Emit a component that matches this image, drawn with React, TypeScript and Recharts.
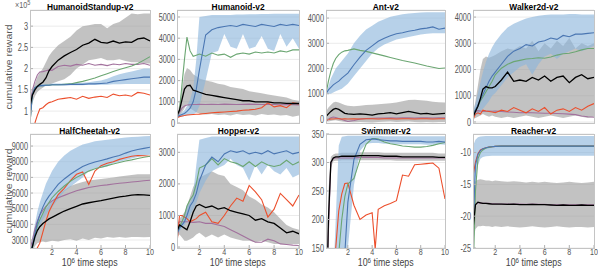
import React from 'react';
import { ComposedChart, Line, Area, XAxis, YAxis, CartesianGrid } from 'recharts';

// ---------- shared x grid (10^6 time steps) ----------
const X = [0.2, 0.4, 0.6, 0.8, 1, 1.25, 1.5, 1.75, 2, 2.5, 3, 3.5, 4, 4.5, 5, 5.5, 6, 6.5, 7, 7.5, 8, 8.5, 9, 9.5, 10];
const X_SWIM = [0.2, 0.4, 0.6, 0.8, 1, 1.25, 1.5, 1.75, 2, 2.5, 3, 3.5, 4, 4.25, 4.5, 5, 5.5, 6, 6.5, 7, 7.5, 8, 8.5, 9, 9.5, 10];
const X_TICKS = [2, 4, 6, 8, 10];

// ---------- HumanoidStandup-v2 (x10^5) ----------
const standupBlue = [0.72, 1.4, 1.55, 1.58, 1.6, 1.6, 1.61, 1.61, 1.62, 1.62, 1.62, 1.63, 1.63, 1.63, 1.64, 1.64, 1.65, 1.66, 1.7, 1.72, 1.74, 1.76, 1.78, 1.8, 1.8];
const standupBlueLo = [0.7, 1.36, 1.52, 1.55, 1.57, 1.58, 1.59, 1.59, 1.6, 1.6, 1.6, 1.61, 1.61, 1.61, 1.62, 1.62, 1.62, 1.62, 1.63, 1.63, 1.64, 1.64, 1.64, 1.64, 1.64];
const standupBlueHi = [0.75, 1.44, 1.58, 1.61, 1.63, 1.63, 1.64, 1.64, 1.65, 1.65, 1.65, 1.66, 1.66, 1.67, 1.68, 1.7, 1.72, 1.76, 1.82, 1.87, 1.9, 1.93, 1.97, 2.0, 2.0];
const standupGreen = [0.72, 1.4, 1.55, 1.58, 1.6, 1.6, 1.61, 1.61, 1.62, 1.62, 1.63, 1.64, 1.67, 1.7, 1.74, 1.78, 1.83, 1.88, 1.93, 1.98, 2.02, 2.06, 2.12, 2.2, 2.28];
const standupRed = [0.6, 0.65, 0.72, 0.9, 1.05, 1.08, 1.15, 1.2, 1.22, 1.28, 1.3, 1.32, 1.28, 1.35, 1.3, 1.33, 1.35, 1.32, 1.4, 1.36, 1.38, 1.35, 1.44, 1.42, 1.38];
const standupBlack = [1.12, 1.38, 1.5, 1.58, 1.63, 1.68, 1.78, 1.95, 2.05, 2.2, 2.3, 2.38, 2.45, 2.55, 2.6, 2.69, 2.62, 2.6, 2.65, 2.6, 2.63, 2.62, 2.7, 2.72, 2.65];
const standupBlackLo = [1.0, 1.2, 1.35, 1.45, 1.5, 1.55, 1.6, 1.62, 1.65, 1.7, 1.75, 1.85, 2.0, 2.1, 2.2, 2.22, 2.25, 2.2, 2.2, 2.22, 2.18, 2.15, 2.15, 2.12, 2.12];
const standupBlackHi = [1.2, 1.5, 1.65, 1.8, 1.9, 2.0, 2.15, 2.3, 2.4, 2.55, 2.65, 2.75, 2.9, 3.0, 3.02, 3.05, 3.05, 2.95, 3.05, 3.1, 3.2, 3.3, 3.28, 3.3, 3.3];
const standupPurple = [1.15, 1.5, 1.7, 1.85, 1.92, 1.93, 1.95, 1.97, 1.96, 2.05, 2.08, 2.06, 2.1, 2.08, 2.12, 2.08, 2.1, 2.07, 2.11, 2.09, 2.12, 2.1, 2.1, 2.12, 2.08];
const standupTicks = [1, 1.5, 2, 2.5, 3];

// ---------- Humanoid-v2 ----------
const humanoidBlue = [300, 350, 400, 450, 550, 700, 1000, 1600, 2500, 4150, 4400, 4500, 4550, 4600, 4550, 4650, 4600, 4550, 4650, 4600, 4550, 4650, 4600, 4650, 4600];
const humanoidBlueLo = [250, 280, 300, 330, 350, 380, 400, 500, 800, 2000, 3300, 3400, 4200, 3600, 3500, 4200, 3500, 3600, 4100, 3500, 3400, 4200, 3600, 4000, 3500];
const humanoidBlueHi = [350, 420, 500, 600, 800, 1100, 1600, 3000, 5000, 5050, 5100, 5100, 5100, 5100, 5120, 5120, 5130, 5130, 5140, 5140, 5150, 5150, 5150, 5150, 5150];
const humanoidGreen = [300, 600, 1800, 3000, 4050, 3400, 3150, 3200, 3250, 3150, 3300, 3200, 3250, 3100, 3250, 3300, 3250, 3350, 3300, 3350, 3300, 3400, 3350, 3450, 3450];
const humanoidRed = [250, 300, 330, 350, 380, 390, 400, 410, 420, 450, 480, 500, 520, 540, 560, 600, 620, 650, 720, 950, 760, 820, 720, 950, 900];
const humanoidBlack = [350, 600, 1100, 1600, 1750, 1780, 1550, 1500, 1450, 1350, 1300, 1250, 1200, 1150, 1100, 1050, 1050, 1000, 1000, 1000, 950, 950, 930, 920, 920];
const humanoidBlackLo = [250, 350, 500, 700, 900, 700, 600, 500, 450, 400, 420, 380, 400, 350, 420, 380, 400, 350, 420, 380, 400, 350, 380, 300, 350];
const humanoidBlackHi = [400, 900, 1600, 2300, 2600, 2500, 2300, 2200, 2100, 2000, 1950, 1850, 1800, 1700, 1650, 1600, 1500, 1450, 1400, 1350, 1300, 1250, 1200, 1100, 1050];
const humanoidPurple = [300, 500, 700, 800, 850, 860, 870, 870, 880, 870, 880, 870, 890, 880, 870, 880, 890, 880, 870, 880, 870, 860, 870, 860, 850];
const humanoidTicks = [0, 1000, 2000, 3000, 4000, 5000];

// ---------- Ant-v2 ----------
const antBlue = [1000, 1150, 1250, 1350, 1420, 1500, 1620, 1720, 1820, 2150, 2450, 2720, 2900, 3080, 3200, 3300, 3380, 3420, 3480, 3520, 3570, 3600, 3650, 3560, 3600];
const antBlueLo = [1000, 1000, 1000, 1050, 1100, 1150, 1200, 1300, 1400, 1700, 2000, 2300, 2600, 2800, 2950, 3050, 3150, 3200, 3250, 3300, 3350, 3380, 3400, 3400, 3400];
const antBlueHi = [1000, 1300, 1600, 1800, 2000, 2150, 2300, 2450, 2600, 3000, 3300, 3550, 3700, 3850, 3950, 4050, 4100, 4150, 4180, 4200, 4220, 4230, 4230, 4230, 4230];
const antGreen = [1000, 1500, 1900, 2200, 2400, 2550, 2650, 2700, 2720, 2780, 2720, 2680, 2620, 2560, 2500, 2440, 2380, 2320, 2270, 2220, 2160, 2100, 2050, 2000, 2020];
const antRed = [-50, -20, 0, 0, 10, 10, 0, 10, 0, 10, 0, 10, 10, 0, 10, 10, 0, 10, 10, 0, 10, 10, 0, 10, 10];
const antBlack = [100, 200, 300, 380, 420, 380, 300, 220, 200, 180, 200, 180, 150, 200, 220, 250, 200, 250, 300, 250, 200, 220, 180, 200, 220];
const antBlackLo = [-100, -100, -80, -60, -50, -80, -100, -120, -120, -130, -120, -130, -140, -120, -110, -100, -120, -110, -100, -120, -130, -120, -130, -120, -120];
const antBlackHi = [300, 450, 550, 650, 680, 650, 600, 550, 520, 500, 520, 550, 560, 580, 600, 620, 650, 700, 750, 760, 740, 720, 680, 660, 650];
const antPurple = [-100, 0, 50, 80, 60, 20, -20, -60, -100, -60, 0, 20, 30, 40, 40, 50, 40, 50, 50, 40, 50, 50, 40, 50, 50];
const antTicks = [0, 1000, 2000, 3000, 4000];

// ---------- Walker2d-v2 ----------
const walkerBlue = [300, 450, 650, 850, 1050, 1300, 1550, 1750, 1900, 2200, 2500, 2700, 2800, 2950, 2900, 3050, 3100, 3200, 3150, 3300, 3250, 3350, 3350, 3380, 3400];
const walkerBlueLo = [200, 250, 300, 400, 500, 650, 800, 1000, 1100, 1400, 1700, 1900, 2100, 2200, 1800, 2200, 2500, 2600, 2400, 2600, 2700, 2800, 2700, 2800, 2900];
const walkerBlueHi = [400, 700, 1100, 1500, 1900, 2300, 2600, 2850, 3050, 3350, 3600, 3750, 3850, 3950, 4000, 4050, 4080, 4100, 4100, 4100, 4120, 4120, 4100, 4100, 4100];
const walkerGreen = [300, 450, 600, 800, 950, 1150, 1350, 1550, 1800, 2050, 2200, 2300, 2350, 2400, 2420, 2450, 2430, 2480, 2550, 2600, 2620, 2680, 2750, 2800, 2800];
const walkerRed = [100, 300, 350, 300, 450, 420, 400, 380, 350, 450, 400, 550, 450, 350, 500, 400, 550, 300, 450, 500, 400, 550, 450, 600, 700];
const walkerBlack = [200, 400, 600, 900, 1250, 1350, 1300, 1300, 1350, 1600, 1900, 1550, 1600, 1550, 1700, 1600, 1750, 1550, 1700, 1750, 1500, 1700, 1800, 1650, 1700];
const walkerBlackLo = [100, 150, 200, 250, 300, 250, 200, 250, 200, 150, 200, 150, 200, 250, 200, 150, 200, 250, 200, 150, 200, 250, 200, 150, 200];
const walkerBlackHi = [300, 800, 1400, 2000, 2400, 2500, 2450, 2500, 2550, 2700, 2800, 2750, 2900, 2800, 3100, 2700, 3000, 2800, 3100, 2900, 3200, 2800, 3000, 2900, 3000];
const walkerPurple = [250, 400, 430, 420, 400, 410, 420, 410, 420, 400, 380, 370, 350, 360, 350, 340, 330, 330, 320, 310, 300, 280, 230, 200, 180];
const walkerTicks = [0, 1000, 2000, 3000, 4000];

// ---------- HalfCheetah-v2 ----------
const cheetahBlue = [2000, 2600, 3400, 4100, 4600, 5100, 5500, 5800, 6050, 6550, 6900, 7200, 7450, 7700, 7850, 7980, 8080, 8180, 8300, 8400, 8550, 8680, 8780, 8850, 8920];
const cheetahBlueLo = [1800, 2300, 2900, 3500, 3900, 4300, 4600, 4900, 5100, 5600, 6100, 6400, 6700, 7000, 7400, 7600, 7600, 7700, 7900, 8000, 8100, 8200, 8300, 8400, 8450];
const cheetahBlueHi = [2500, 3200, 4000, 4800, 5400, 6000, 6600, 7000, 7400, 8000, 8400, 8700, 8900, 9100, 9200, 9300, 9350, 9400, 9450, 9500, 9550, 9580, 9600, 9620, 9650];
const cheetahGreen = [2000, 2500, 3300, 3900, 4300, 4700, 5100, 5400, 5700, 6100, 6450, 6750, 7000, 7200, 7400, 7550, 7650, 7750, 7850, 7950, 8050, 8120, 8200, 8280, 8350];
const cheetahRed = [1500, 1800, 2200, 2500, 2800, 3500, 4200, 4800, 5200, 5900, 6300, 6800, 7200, 7350, 6550, 7400, 7750, 7900, 8000, 8150, 8250, 8350, 8400, 8380, 8350];
const cheetahBlack = [2000, 2600, 3200, 3600, 3850, 4050, 4200, 4350, 4450, 4650, 4850, 5000, 5150, 5300, 5380, 5450, 5520, 5600, 5680, 5750, 5800, 5870, 5900, 5880, 5850];
const cheetahBlackLo = [2000, 2300, 2600, 2800, 2850, 2900, 2850, 2900, 2950, 2900, 3000, 3050, 2950, 3100, 3000, 3150, 3100, 3200, 3150, 3200, 3150, 3200, 3200, 3180, 3200];
const cheetahBlackHi = [2200, 2900, 3600, 4000, 4300, 4650, 5000, 5250, 5500, 5900, 6200, 6450, 6600, 6700, 6800, 6850, 6900, 6950, 7000, 7050, 7100, 7150, 7200, 7200, 7200];
const cheetahPurple = [2400, 3000, 3700, 4200, 4600, 4900, 5150, 5350, 5500, 5700, 5850, 6000, 6150, 6250, 6350, 6420, 6480, 6520, 6580, 6620, 6660, 6700, 6740, 6780, 6820];
const cheetahTicks = [3000, 4000, 5000, 6000, 7000, 8000, 9000];

// ---------- Hopper-v2 ----------
const hopperBlue = [400, 600, 700, 800, 1000, 1300, 1450, 1700, 2100, 2600, 2850, 2700, 2950, 3050, 3000, 3050, 2950, 3000, 2950, 3050, 2950, 3000, 3050, 2950, 3000];
const hopperBlueLo = [300, 500, 600, 700, 800, 1000, 1200, 1400, 1700, 2100, 2400, 2500, 2600, 2800, 2600, 2500, 2100, 2600, 2300, 2600, 2400, 2300, 2500, 2200, 2300];
const hopperBlueHi = [500, 700, 800, 1000, 1300, 1400, 1700, 2600, 3400, 3450, 3500, 3500, 3500, 3500, 3500, 3500, 3500, 3500, 3500, 3500, 3500, 3500, 3500, 3500, 3500];
const hopperGreen = [500, 650, 800, 1000, 1300, 1500, 1650, 2000, 2500, 2600, 2800, 2600, 2800, 2700, 2650, 2550, 2700, 2550, 2700, 2600, 2550, 2600, 2750, 2600, 2700];
const hopperRed = [100, 1000, 1000, 950, 900, 800, 850, 900, 1000, 1100, 800, 750, 1000, 1300, 1550, 1450, 1950, 1750, 1500, 950, 1200, 1700, 1500, 1300, 1650];
const hopperBlack = [500, 700, 650, 600, 550, 800, 1100, 1300, 1350, 1250, 1300, 1200, 1250, 1150, 1100, 1050, 1000, 850, 900, 800, 750, 600, 450, 500, 420];
const hopperBlackLo = [300, 400, 300, 200, 200, 250, 300, 400, 450, 300, 400, 300, 400, 300, 250, 200, 200, 150, 200, 150, 100, 100, 100, 100, 100];
const hopperBlackHi = [700, 900, 1000, 1100, 1300, 1600, 1900, 2100, 2200, 2300, 2400, 2300, 2250, 2000, 1900, 1800, 1600, 1500, 1350, 1250, 1100, 900, 700, 600, 550];
const hopperPurple = [700, 800, 800, 800, 800, 790, 780, 790, 800, 750, 750, 700, 650, 550, 450, 350, 250, 150, 150, 250, 200, 100, 80, 60, 50];
const hopperTicks = [0, 1000, 2000, 3000];

// ---------- Swimmer-v2 ----------
const swimmerBlue = [0, 0, 0, 0, 50, 80, 100, 140, 230, 305, 332, 340, 341, 341, 340, 339, 338, 338, 337, 337, 337, 337, 336, 336, 337, 336];
const swimmerBlueLo = [0, 0, 0, 0, 0, 20, 50, 100, 150, 260, 320, 333, 334, 334, 334, 333, 333, 332, 332, 332, 332, 332, 331, 331, 332, 331];
const swimmerBlueHi = [0, 0, 0, 100, 200, 330, 345, 346, 347, 347, 347, 347, 347, 347, 347, 346, 346, 346, 346, 346, 346, 346, 346, 346, 346, 346];
const swimmerGreen = [0, 0, 0, 0, 100, 140, 200, 240, 262, 272, 305, 332, 342, 342, 341, 336, 333, 331, 329, 328, 327, 327, 328, 330, 333, 335];
const swimmerRed = [0, 0, 0, 80, 150, 215, 245, 263, 264, 225, 200, 208, 212, 148, 218, 224, 228, 233, 278, 276, 296, 297, 298, 299, 290, 236];
const swimmerBlack = [0, 200, 300, 308, 310, 310, 311, 311, 311, 311, 312, 312, 312, 312, 312, 311, 311, 311, 310, 310, 310, 310, 310, 310, 309, 309];
const swimmerBlackLo = [0, 150, 290, 302, 303, 303, 304, 304, 304, 304, 304, 304, 304, 304, 304, 304, 304, 303, 303, 303, 303, 303, 303, 303, 303, 303];
const swimmerBlackHi = [0, 250, 310, 314, 316, 316, 317, 317, 317, 317, 318, 318, 318, 318, 318, 317, 317, 317, 317, 317, 317, 317, 317, 317, 316, 316];
const swimmerPurple = [0, 180, 300, 307, 308, 308, 308, 308, 308, 308, 309, 309, 309, 309, 309, 308, 308, 308, 308, 308, 308, 308, 308, 308, 308, 308];
const swimmerTicks = [150, 200, 250, 300, 350];

// ---------- Reacher-v2 ----------
const reacherBlue = [-22, -12, -10.3, -9.7, -9.4, -9.25, -9.15, -9.1, -9.05, -9.0, -9.0, -9.0, -9.0, -9.0, -9.0, -9.0, -9.0, -9.0, -9.0, -9.0, -9.0, -9.0, -9.0, -9.0, -9.0];
const reacherBlueLo = [-30, -14, -12, -11, -10.7, -10.6, -10.55, -10.5, -10.5, -10.5, -10.5, -10.5, -10.5, -10.5, -10.5, -10.5, -10.5, -10.5, -10.5, -10.5, -10.5, -10.5, -10.5, -10.5, -10.5];
const reacherBlueHi = [-9, -8, -7.6, -7.5, -7.45, -7.4, -7.4, -7.4, -7.4, -7.4, -7.4, -7.4, -7.4, -7.4, -7.4, -7.4, -7.4, -7.4, -7.4, -7.4, -7.4, -7.4, -7.4, -7.4, -7.4];
const reacherGreen = [-30, -16, -11, -10, -9.6, -9.3, -9.2, -9.1, -9.05, -9.0, -9.0, -9.0, -9.0, -9.0, -9.0, -9.0, -9.0, -9.0, -9.0, -9.0, -9.0, -9.0, -9.0, -9.0, -9.0];
const reacherRed = [-13.8, -11.5, -10.2, -9.6, -9.4, -9.25, -9.15, -9.1, -9.05, -9.0, -9.0, -9.0, -9.0, -9.0, -9.0, -9.0, -9.0, -9.0, -9.0, -9.0, -9.0, -9.0, -9.0, -9.0, -9.0];
const reacherBlack = [-22, -18.2, -17.8, -17.9, -18, -18, -18.05, -18.1, -18.1, -18.1, -18.15, -18.1, -18.2, -18.2, -18.15, -18.2, -18.2, -18.25, -18.3, -18.25, -18.3, -18.3, -18.25, -18.3, -18.3];
const reacherBlackLo = [-24, -22, -21.6, -21.6, -21.5, -21.6, -21.6, -21.7, -21.6, -21.7, -21.6, -21.7, -21.8, -21.7, -21.6, -21.7, -21.8, -21.7, -21.6, -21.7, -21.8, -21.7, -21.7, -21.8, -21.7];
const reacherBlackHi = [-16, -14.5, -14.3, -14.2, -14.3, -14.4, -14.4, -14.5, -14.4, -14.5, -14.6, -14.5, -14.6, -14.7, -14.6, -14.7, -14.6, -14.7, -14.8, -14.7, -14.6, -14.7, -14.8, -14.7, -14.6];
const reacherPurple = [-20, -18.1, -17.9, -17.95, -18, -18, -18, -18.05, -18.05, -18.1, -18.1, -18.1, -18.1, -18.15, -18.1, -18.15, -18.15, -18.2, -18.2, -18.2, -18.2, -18.2, -18.2, -18.2, -18.2];
const reacherTicks = [-25, -20, -15, -10];

// ---------- styling ----------
const C_BLUE = '#4a76b2';
const C_GREEN = '#6ba672';
const C_RED = '#ec4f2c';
const C_PURPLE = '#a2719d';
const C_BLACK = '#000000';
const FONT = '"Liberation Sans", Arial, Helvetica, sans-serif';

type Panel = {
  title: string;
  x: number[];
  blue: number[]; blueLo: number[]; blueHi: number[];
  green: number[]; red: number[];
  black: number[]; blackLo: number[]; blackHi: number[];
  purple: number[];
  domain: [number, number];
  ticks: number[];
  left: number; top: number; w: number; h: number;
  bottomRow: boolean;
};

const ROW1_TOP = 10, ROW1_H = 113, ROW2_TOP = 134, ROW2_H = 114;
const COLS = [{ l: 30, w: 120 }, { l: 177, w: 122 }, { l: 326, w: 119 }, { l: 473, w: 121 }];

const panels: Panel[] = [
  { title: 'HumanoidStandup-v2', x: X, blue: standupBlue, blueLo: standupBlueLo, blueHi: standupBlueHi, green: standupGreen, red: standupRed, black: standupBlack, blackLo: standupBlackLo, blackHi: standupBlackHi, purple: standupPurple, domain: [0.72, 3.38], ticks: standupTicks, left: COLS[0].l, w: COLS[0].w, top: ROW1_TOP, h: ROW1_H, bottomRow: false },
  { title: 'Humanoid-v2', x: X, blue: humanoidBlue, blueLo: humanoidBlueLo, blueHi: humanoidBlueHi, green: humanoidGreen, red: humanoidRed, black: humanoidBlack, blackLo: humanoidBlackLo, blackHi: humanoidBlackHi, purple: humanoidPurple, domain: [0, 5330], ticks: humanoidTicks, left: COLS[1].l, w: COLS[1].w, top: ROW1_TOP, h: ROW1_H, bottomRow: false },
  { title: 'Ant-v2', x: X, blue: antBlue, blueLo: antBlueLo, blueHi: antBlueHi, green: antGreen, red: antRed, black: antBlack, blackLo: antBlackLo, blackHi: antBlackHi, purple: antPurple, domain: [-160, 4320], ticks: antTicks, left: COLS[2].l, w: COLS[2].w, top: ROW1_TOP, h: ROW1_H, bottomRow: false },
  { title: 'Walker2d-v2', x: X, blue: walkerBlue, blueLo: walkerBlueLo, blueHi: walkerBlueHi, green: walkerGreen, red: walkerRed, black: walkerBlack, blackLo: walkerBlackLo, blackHi: walkerBlackHi, purple: walkerPurple, domain: [-40, 4270], ticks: walkerTicks, left: COLS[3].l, w: COLS[3].w, top: ROW1_TOP, h: ROW1_H, bottomRow: false },
  { title: 'HalfCheetah-v2', x: X, blue: cheetahBlue, blueLo: cheetahBlueLo, blueHi: cheetahBlueHi, green: cheetahGreen, red: cheetahRed, black: cheetahBlack, blackLo: cheetahBlackLo, blackHi: cheetahBlackHi, purple: cheetahPurple, domain: [2490, 9770], ticks: cheetahTicks, left: COLS[0].l, w: COLS[0].w, top: ROW2_TOP, h: ROW2_H, bottomRow: true },
  { title: 'Hopper-v2', x: X, blue: hopperBlue, blueLo: hopperBlueLo, blueHi: hopperBlueHi, green: hopperGreen, red: hopperRed, black: hopperBlack, blackLo: hopperBlackLo, blackHi: hopperBlackHi, purple: hopperPurple, domain: [-30, 3580], ticks: hopperTicks, left: COLS[1].l, w: COLS[1].w, top: ROW2_TOP, h: ROW2_H, bottomRow: true },
  { title: 'Swimmer-v2', x: X_SWIM, blue: swimmerBlue, blueLo: swimmerBlueLo, blueHi: swimmerBlueHi, green: swimmerGreen, red: swimmerRed, black: swimmerBlack, blackLo: swimmerBlackLo, blackHi: swimmerBlackHi, purple: swimmerPurple, domain: [150, 350], ticks: swimmerTicks, left: COLS[2].l, w: COLS[2].w, top: ROW2_TOP, h: ROW2_H, bottomRow: true },
  { title: 'Reacher-v2', x: X, blue: reacherBlue, blueLo: reacherBlueLo, blueHi: reacherBlueHi, green: reacherGreen, red: reacherRed, black: reacherBlack, blackLo: reacherBlackLo, blackHi: reacherBlackHi, purple: reacherPurple, domain: [-25, -7.1], ticks: reacherTicks, left: COLS[3].l, w: COLS[3].w, top: ROW2_TOP, h: ROW2_H, bottomRow: true },
];

const YAXIS_W = 30;
const RIGHT_PAD = 6;
const TOP_PAD = 6;
const XAXIS_H_BOTTOM = 13;
const XAXIS_H_TOP = 8;

const YTick = (props: any) => {
  const { x, y, payload } = props;
  return (
    <text transform={`translate(${x},${y}) scale(0.7,1)`} x={0} y={0} dy={3.6} textAnchor="end" fontSize={10.5} fill="#555" fontFamily={FONT}>
      {String(payload.value)}
    </text>
  );
};

const XTick = (props: any) => {
  const { x, y, payload } = props;
  return (
    <text transform={`translate(${x},${y}) scale(0.75,1)`} x={0} y={0} dy={7} textAnchor="middle" fontSize={9.5} fill="#555" fontFamily={FONT}>
      {String(payload.value)}
    </text>
  );
};

const PanelChart = ({ p }: { p: Panel }) => {
  const rows = p.x.map((xv, i) => ({
    x: xv,
    blue: p.blue[i],
    blueBand: [p.blueLo[i], p.blueHi[i]],
    green: p.green[i],
    red: p.red[i],
    black: p.black[i],
    blackBand: [p.blackLo[i], p.blackHi[i]],
    purple: p.purple[i],
  }));
  const xh = p.bottomRow ? XAXIS_H_BOTTOM : XAXIS_H_TOP;
  const lw = 1.1;
  return (
    <>
      <div style={{ position: 'absolute', left: p.left - YAXIS_W, top: p.top - TOP_PAD }}>
        <ComposedChart width={YAXIS_W + p.w + RIGHT_PAD} height={TOP_PAD + p.h + xh} data={rows} margin={{ top: TOP_PAD, right: RIGHT_PAD, bottom: 0, left: 0 }}>
          <CartesianGrid vertical={false} stroke="#ebebeb" strokeWidth={1} />
          <XAxis dataKey="x" type="number" domain={[0.2, 10]} ticks={X_TICKS} interval={0} allowDataOverflow height={xh}
            axisLine={false} tickSize={-3} tickMargin={3} tickLine={{ stroke: '#b0b0b0' }}
            tick={p.bottomRow ? XTick : false} />
          <YAxis type="number" domain={p.domain} ticks={p.ticks} interval={0} allowDataOverflow width={YAXIS_W}
            axisLine={false} tickSize={-3} tickMargin={5} tickLine={{ stroke: '#b0b0b0' }} tick={YTick} />
          <Area type="linear" dataKey="blackBand" fill="#9a9a9a" fillOpacity={0.6} stroke="none" isAnimationActive={false} />
          <Area type="linear" dataKey="blueBand" fill="#8ab4dc" fillOpacity={0.62} stroke="none" isAnimationActive={false} />
          <Line type="linear" dataKey="purple" stroke={C_PURPLE} strokeWidth={lw} dot={false} isAnimationActive={false} />
          <Line type="linear" dataKey="red" stroke={C_RED} strokeWidth={lw} dot={false} isAnimationActive={false} />
          <Line type="linear" dataKey="green" stroke={C_GREEN} strokeWidth={lw} dot={false} isAnimationActive={false} />
          <Line type="linear" dataKey="blue" stroke={C_BLUE} strokeWidth={lw} dot={false} isAnimationActive={false} />
          <Line type="linear" dataKey="black" stroke={C_BLACK} strokeWidth={1.3} dot={false} isAnimationActive={false} />
        </ComposedChart>
      </div>
      <div style={{ position: 'absolute', left: p.left, top: p.top, width: p.w + 1, height: p.h + 1, boxSizing: 'border-box', border: '1px solid #c4c4c4', pointerEvents: 'none' }} />
      <div style={{ position: 'absolute', left: p.left, width: p.w, top: p.top - 9, height: 11, textAlign: 'center', fontFamily: FONT, fontWeight: 'bold', fontSize: 9.5, lineHeight: '11px', color: '#000', whiteSpace: 'nowrap' }}>
        <span style={{ display: 'inline-block', transform: 'scaleX(0.88)', transformOrigin: 'center' }}>{p.title}</span>
      </div>
      {p.bottomRow && (
        <div style={{ position: 'absolute', left: p.left, width: p.w, top: p.top + p.h + 10, height: 10, textAlign: 'center', fontFamily: FONT, fontSize: 10, lineHeight: '10px', color: '#444', whiteSpace: 'nowrap' }}>
          <span style={{ display: 'inline-block', transform: 'scaleX(0.88)', transformOrigin: 'center' }}>
            10<span style={{ fontSize: 7, position: 'relative', top: -3 }}>6</span> time steps
          </span>
        </div>
      )}
    </>
  );
};

const YLabel = ({ cy }: { cy: number }) => (
  <div style={{ position: 'absolute', left: 9 - 50, top: cy - 6, width: 100, height: 12, textAlign: 'center', fontFamily: FONT, fontSize: 10.5, lineHeight: '12px', color: '#555', transform: 'rotate(-90deg) scaleY(0.8)', whiteSpace: 'nowrap' }}>
    cumulative reward
  </div>
);

export default function App() {
  return (
    <div style={{ position: 'absolute', left: 0, top: 0, width: 598, height: 268, background: '#fff', overflow: 'hidden' }}>
      {panels.map((p) => <PanelChart key={p.title} p={p} />)}
      <YLabel cy={ROW1_TOP + ROW1_H / 2} />
      <YLabel cy={ROW2_TOP + ROW2_H / 2} />
      <div style={{ position: 'absolute', left: 15, top: 0, fontFamily: FONT, fontSize: 8.5, lineHeight: '10px', color: '#666', whiteSpace: 'nowrap' }}>
        <span style={{ display: 'inline-block', transform: 'scaleX(0.85)', transformOrigin: 'left' }}>
          ×10<span style={{ fontSize: 6.5, position: 'relative', top: -3 }}>5</span>
        </span>
      </div>
    </div>
  );
}
